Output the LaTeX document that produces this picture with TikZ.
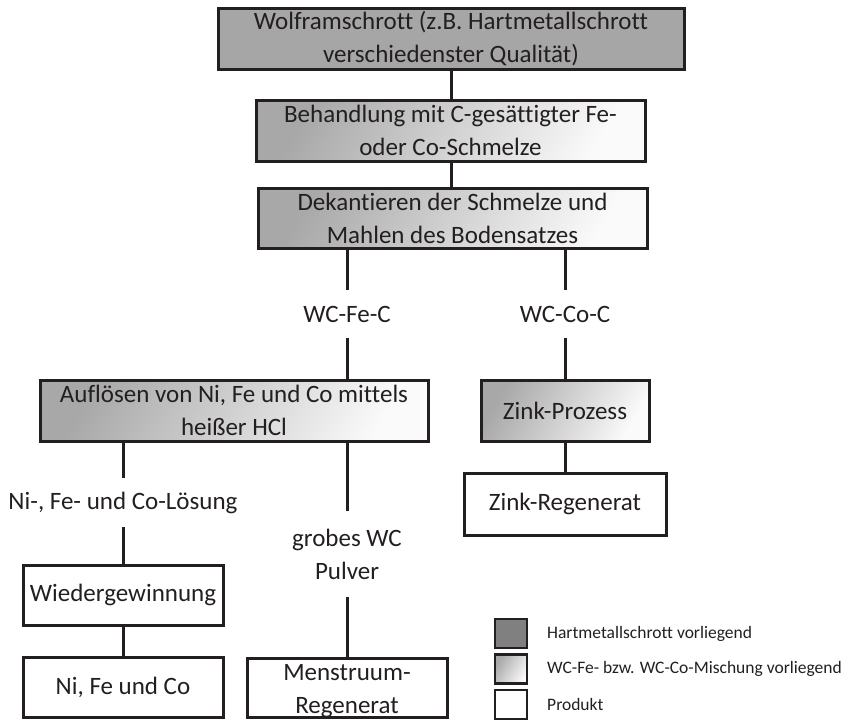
\documentclass[tikz,border=0pt]{standalone}
\usepackage{fontspec}
\setmainfont[Ligatures=NoCommon]{Carlito}
\definecolor{edge}{HTML}{231F20}
\definecolor{txt}{HTML}{231F20}
\definecolor{scrapgray}{HTML}{A6A6A6}
\definecolor{scrapkey}{HTML}{808080}
\definecolor{mixdark}{HTML}{A8A8A8}
\definecolor{mixlight}{HTML}{FAFAFA}
\begin{document}
\begin{tikzpicture}[x=1pt,y=-1pt,
  every node/.style={font=\fontsize{25}{33}\selectfont, text=txt},
  box/.style={draw=edge, line width=3pt, inner sep=0pt, align=center},
  scrap/.style={box, fill=scrapgray},
  mix/.style={box, top color=mixdark, bottom color=mixlight, shading angle=60},
  prod/.style={box, fill=white},
  lab/.style={inner sep=0pt, align=center},
  link/.style={draw=edge, line width=3pt},
  keybox/.style={draw=edge, line width=2.2pt, minimum width=32pt, minimum height=29pt, inner sep=0pt},
  keytext/.style={anchor=west, inner sep=0pt, font=\fontsize{17.5}{20}\selectfont}]
\useasboundingbox (0,0) rectangle (847,720);

% process chain
\node[scrap, minimum width=466pt, minimum height=61pt] (b1) at (451,38.5)
  {Wolframschrott (z.B. Hartmetallschrott\\verschiedenster Qualität)};
\node[mix, minimum width=389pt, minimum height=61pt] (b2) at (450.5,130.5)
  {Behandlung mit C-gesättigter Fe-\\oder Co-Schmelze};
\node[mix, minimum width=389pt, minimum height=60pt] (b3) at (452.5,218)
  {Dekantieren der Schmelze und\\Mahlen des Bodensatzes};

% branch labels
\node[lab, minimum height=48pt] (lfe) at (347,314) {WC-Fe-C};
\node[lab, minimum height=48pt] (lco) at (565,314) {WC-Co-C};

\node[mix, minimum width=388pt, minimum height=61pt] (b4) at (234,410.5)
  {Auflösen von Ni, Fe und Co mittels\\heißer HCl};
\node[mix, minimum width=168pt, minimum height=61pt] (zp) at (565,410.5) {Zink-Prozess};
\node[prod, minimum width=202pt, minimum height=62pt] (zr) at (565,504) {Zink-Regenerat};

\node[lab, minimum height=49pt] (lni) at (123,502.5) {Ni-, Fe- und Co-Lösung};
\node[lab, minimum height=86pt] (lwc) at (347,554) {grobes WC\\Pulver};

\node[prod, minimum width=200pt, minimum height=60pt] (wg) at (123,595) {Wiedergewinnung};
\node[prod, minimum width=200pt, minimum height=60pt] (nfc) at (123,687) {Ni, Fe und Co};
\node[prod, minimum width=200pt, minimum height=59pt] (mr) at (347,687.5) {};
\node[lab] (mrt) at ([yshift=-4pt]mr.center) {Menstruum-\\Regenerat};

% connectors
\draw[link] (b1.south) -- (b1.south |- b2.north);
\draw[link] (b1.south |- b2.south) -- (b1.south |- b3.north);
\draw[link] (lfe.north |- b3.south) -- (lfe.north);
\draw[link] (lco.north |- b3.south) -- (lco.north);
\draw[link] (lfe.south) -- (lfe.south |- b4.north);
\draw[link] (lco.south) -- (zp.north);
\draw[link] (zp.south) -- (zr.north);
\draw[link] (lni.north |- b4.south) -- (lni.north);
\draw[link] (lni.south) -- (wg.north);
\draw[link] (wg.south) -- (nfc.north);
\draw[link] (lwc.north |- b4.south) -- (lwc.north);
\draw[link] (lwc.south) -- (mr.north);

% key
\node[keybox, fill=scrapkey] (k1) at (511,633.5) {};
\node[keybox, top color=mixdark, bottom color=mixlight, shading angle=60] (k2) at (511,669) {};
\node[keybox, fill=white] (k3) at (511,704.5) {};
\node[keytext] (k1t) at (547,633.5) {Hartmetallschrott vorliegend};
\node[keytext] (k2t) at (547,669) {WC-Fe- bzw. WC-Co-Mischung vorliegend};
\node[keytext] (k3t) at (547,704.5) {Produkt};
\end{tikzpicture}
\end{document}
